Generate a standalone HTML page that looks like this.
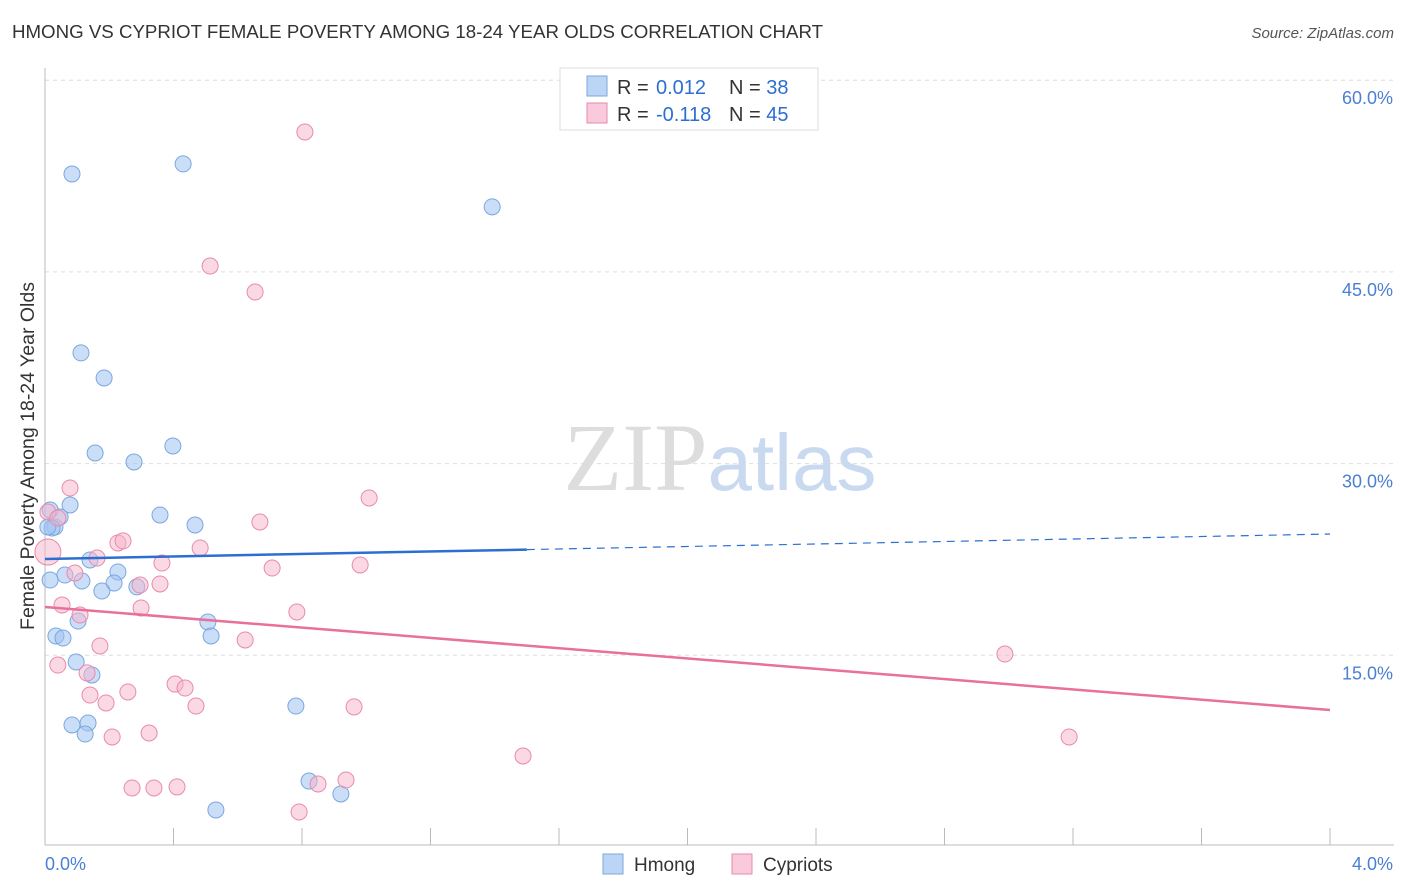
<!DOCTYPE html>
<html><head><meta charset="utf-8"><style>
body{margin:0;background:#fff;font-family:"Liberation Sans",sans-serif;}
#wrap{position:relative;width:1406px;height:892px;}
.t{position:absolute;white-space:nowrap;}
</style></head><body>
<div id="wrap">
<div class="t" style="left:12px;top:21px;font-size:18.7px;color:#333;">HMONG VS CYPRIOT FEMALE POVERTY AMONG 18-24 YEAR OLDS CORRELATION CHART</div>
<div class="t" style="right:12px;top:25px;font-size:15px;color:#555;font-style:italic;">Source: ZipAtlas.com</div>
<svg id="svg" width="1406" height="892" style="position:absolute;left:0;top:0"></svg>
</div>
<script>
const xTicks=[0,0.4,0.8,1.2,1.6,2.0,2.4,2.8,3.2,3.6,4.0];
const yTicks=[15,30,45,60];
const yTickLabels=["15.0%","30.0%","45.0%","60.0%"];
const hmongX=[0.084,0.430,1.392,0.112,0.184,0.156,0.277,0.398,0.078,0.016,0.031,0.047,0.022,0.358,0.467,0.140,0.227,0.062,0.115,0.016,0.215,0.177,0.286,0.103,0.507,0.517,0.034,0.056,0.097,0.146,0.781,0.084,0.134,0.125,0.822,0.921,0.532,0.009];
const hmongY=[52.66,53.45,50.09,38.66,36.70,30.83,30.13,31.38,26.76,26.37,25.04,25.82,24.96,25.98,25.20,22.46,21.52,21.28,20.81,20.89,20.66,20.03,20.35,17.68,17.61,16.51,16.51,16.35,14.48,13.46,11.03,9.55,9.70,8.84,5.16,4.15,2.90,25.04];
const cypX=[0.809,0.514,0.654,0.078,1.009,0.669,0.009,0.040,0.227,0.243,0.162,0.483,0.364,0.707,0.981,0.093,0.296,0.358,0.053,0.299,0.784,0.109,0.623,0.171,0.040,0.131,0.405,0.436,0.140,0.258,0.190,0.470,0.962,0.209,0.324,2.988,3.188,1.488,0.937,0.850,0.271,0.339,0.411,0.791,0.009];
const cypY=[55.95,45.46,43.43,28.09,27.31,25.43,26.21,25.74,23.79,23.95,22.61,23.40,22.22,21.83,22.07,21.44,20.50,20.58,18.94,18.70,18.39,18.15,16.20,15.73,14.24,13.62,12.75,12.44,11.89,12.13,11.27,11.03,10.96,8.61,8.92,15.10,8.61,7.12,5.24,4.93,4.62,4.62,4.70,2.74,23.08];
const hmongTrend=[22.54,24.49];
const cypTrend=[18.78,10.72];
const X=v=>45+v/4*1285, Y=v=>847-v/15*191.7;
const svg=document.getElementById('svg');const NS='http://www.w3.org/2000/svg';
function mk(t,a,p){const e=document.createElementNS(NS,t);for(const k in a)e.setAttribute(k,a[k]);(p||svg).appendChild(e);return e;}
yTicks.forEach((v,i)=>{const l=mk('line',{x1:45,x2:1394,y1:Y(v),y2:Y(v),stroke:'#ddd','stroke-dasharray':'4,4'});

const t=mk('text',{x:1393,y:Y(v)+24,'text-anchor':'end','font-size':18,fill:'#4a7fd4','font-family':'Liberation Sans'});t.textContent=yTickLabels[i];
});
const ax=mk('line',{x1:45,x2:1394,y1:845,y2:845,stroke:'#bbb'});
const ay=mk('line',{x1:45,x2:45,y1:68,y2:845,stroke:'#bbb'});
xTicks.forEach(v=>{const l=mk('line',{x1:X(v),x2:X(v),y1:828,y2:845,stroke:'#bbb'});});
[["0.0%",45,'start'],["4.0%",1393,'end']].forEach(a=>{const t=mk('text',{x:a[1],y:870,'text-anchor':a[2],'font-size':18,fill:'#4a7fd4','font-family':'Liberation Sans'});t.textContent=a[0];});
const yt=mk('text',{x:0,y:0,transform:'translate(34,456) rotate(-90)','text-anchor':'middle','font-size':19.5,fill:'#333','font-family':'Liberation Sans'});yt.textContent='Female Poverty Among 18-24 Year Olds';
const wm=mk('text',{x:720,y:490,'text-anchor':'middle','font-size':96,'font-family':'Liberation Serif',fill:'#ddd'});wm.innerHTML='ZIP<tspan fill="#c9d9f0" font-family="Liberation Sans" font-size="80">atlas</tspan>';
hmongX.forEach((x,i)=>{const c=mk('circle',{cx:X(x),cy:Y(hmongY[i]),r:8,fill:'rgba(160,195,240,0.55)',stroke:'#7aa7e0','stroke-width':1});});
cypX.forEach((x,i)=>{const c=mk('circle',{cx:X(x),cy:Y(cypY[i]),r:i==cypX.length-1?13:8,fill:'rgba(245,180,204,0.5)',stroke:'#e98aab','stroke-width':1});});
const hx=1.5, hm=hmongTrend[0]+(hmongTrend[1]-hmongTrend[0])*hx/4;
let l=mk('line',{x1:X(0),y1:Y(hmongTrend[0]),x2:X(hx),y2:Y(hm),stroke:'#2c6fd1','stroke-width':2.5});
l=mk('line',{x1:X(hx),y1:Y(hm),x2:X(4),y2:Y(hmongTrend[1]),stroke:'#2c6fd1','stroke-width':1.2,'stroke-dasharray':'8,6'});
l=mk('line',{x1:X(0),y1:Y(cypTrend[0]),x2:X(4),y2:Y(cypTrend[1]),stroke:'#e8709a','stroke-width':2.5});
const lg=mk('g',{});
mk('rect',{x:560,y:68,width:258,height:62,fill:'#fff',stroke:'#ddd'},lg);
mk('rect',{x:587,y:76,width:20,height:20,fill:'rgba(160,195,240,0.7)',stroke:'#7aa7e0'},lg);
mk('rect',{x:587,y:103,width:20,height:20,fill:'rgba(245,180,204,0.7)',stroke:'#e98aab'},lg);
[[94,'0.012','38'],[121,'-0.118','45']].forEach(r=>{const t=mk('text',{x:617,y:r[0],'font-size':20,fill:'#333','font-family':'Liberation Sans'},lg);
t.innerHTML='R = <tspan fill="#2c6fd1" x="656">'+r[1]+'</tspan><tspan x="729">N = </tspan><tspan fill="#2c6fd1">'+r[2]+'</tspan>';});
const bl=mk('g',{});
mk('rect',{x:603,y:854,width:20,height:20,fill:'rgba(160,195,240,0.7)',stroke:'#7aa7e0'},bl);
let t=mk('text',{x:634,y:871,'font-size':19,fill:'#333','font-family':'Liberation Sans'},bl);t.textContent='Hmong';
mk('rect',{x:732,y:854,width:20,height:20,fill:'rgba(245,180,204,0.7)',stroke:'#e98aab'},bl);
t=mk('text',{x:763,y:871,'font-size':19,fill:'#333','font-family':'Liberation Sans'},bl);t.textContent='Cypriots';
</script>
</body></html>
